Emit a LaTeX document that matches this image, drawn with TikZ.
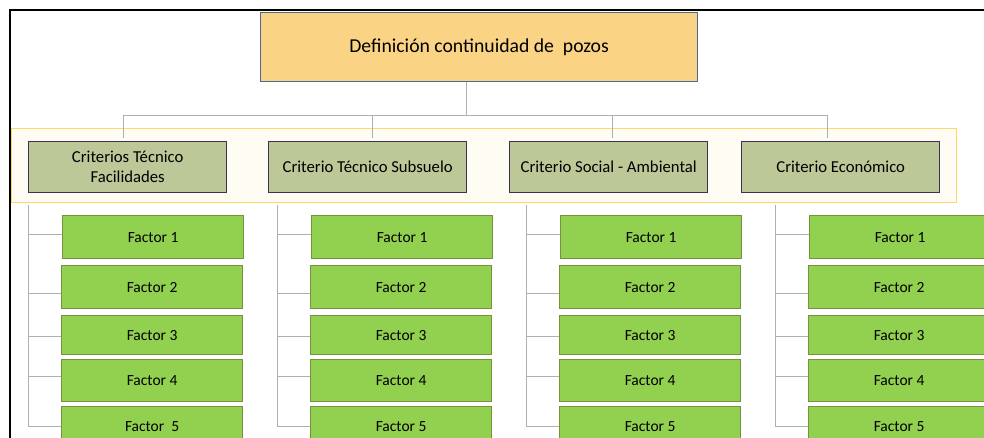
\documentclass[tikz,border=0pt]{standalone}
\usepackage{fontspec}
\setmainfont{Carlito}
\definecolor{topfill}{HTML}{FAD384}
\definecolor{topdraw}{HTML}{4A6A94}
\definecolor{bandfill}{HTML}{FFFCF4}
\definecolor{banddraw}{HTML}{FFD965}
\definecolor{critfill}{HTML}{BCC898}
\definecolor{critdraw}{HTML}{3F3151}
\definecolor{facfill}{HTML}{92D050}
\definecolor{facdraw}{HTML}{76923C}
\definecolor{linegray}{HTML}{B0B0B0}
\tikzset{
  topbox/.style={draw=topdraw, fill=topfill, line width=1.3pt, rectangle, inner sep=0pt,
    minimum width=437pt, minimum height=69pt, anchor=north west, font=\fontsize{19.7}{23}\selectfont},
  bandbox/.style={draw=banddraw, fill=bandfill, line width=1.4pt, rectangle, inner sep=0pt,
    minimum width=945pt, minimum height=74pt, anchor=north west},
  critbox/.style={draw=critdraw, fill=critfill, line width=1.4pt, rectangle, inner sep=0pt,
    minimum width=198pt, minimum height=51pt, anchor=north west, align=center,
    font=\fontsize{16.7}{20}\selectfont},
  facbox/.style={draw=facdraw, fill=facfill, line width=1.2pt, rectangle, inner sep=0pt,
    minimum width=181pt, anchor=north west, font=\fontsize{15.5}{18}\selectfont},
  conn/.style={draw=linegray, line width=0.9pt},
  frame/.style={draw=black, line width=2pt}
}
\begin{document}
\begin{tikzpicture}[x=1pt,y=-1pt]
\useasboundingbox (0,0) rectangle (984,438);
\begin{scope}
\clip (0,0) rectangle (984,438);
\fill[white] (0,0) rectangle (984,438);
% frame
\coordinate (fr1) at (9.5,438);
\coordinate (fr2) at (9.5,10.5);
\coordinate (fr3) at (990,10.5);
\draw[frame] (fr1) -- (fr2) -- (fr3);
% top
\node[topbox] (top) at (260,12) {Definición continuidad de\ \ pozos};
% hub lines
\coordinate (hub) at (466,115);
\coordinate (h1) at (123,115);
\coordinate (h4) at (827,115);
\coordinate (h2) at (372,115);
\coordinate (h3) at (612,115);
\coordinate (d1) at (123,138);
\coordinate (d2) at (372,138);
\coordinate (d3) at (612,138);
\coordinate (d4) at (827,138);
% band
\node[bandbox] (band) at (11,128) {};
\draw[conn] (hub |- top.south) -- (hub);
\draw[conn] (d1) -- (h1) -- (h4) -- (d4);
\draw[conn] (h2) -- (d2);
\draw[conn] (h3) -- (d3);
% criteria
\node[critbox] (c1) at (28,141) {Criterios Técnico\\Facilidades};
\node[critbox] (c2) at (268,141) {Criterio Técnico Subsuelo};
\node[critbox] (c3) at (509,141) {Criterio Social - Ambiental};
\node[critbox] (c4) at (741,141) {Criterio Económico};
% factors
\foreach \i/\cx/\ftext in {1/28/{Factor\ \ 5},2/277/{Factor 5},3/526/{Factor 5},4/775/{Factor 5}} {
  \coordinate (k\i t) at (\cx,205);
  \coordinate (k\i b) at (\cx,426);
  \draw[conn] (k\i t) -- (k\i b);
  \node[facbox, minimum height=43pt] (f\i1) at (\cx+34,215) {Factor 1};
  \node[facbox, minimum height=43pt] (f\i2) at (\cx+33,265) {Factor 2};
  \node[facbox, minimum height=39pt] (f\i3) at (\cx+33,315) {Factor 3};
  \node[facbox, minimum height=42pt] (f\i4) at (\cx+33,359) {Factor 4};
  \node[facbox, minimum height=40pt] (f\i5) at (\cx+33,406) {\ftext};
  \coordinate (b\i1) at (\cx,234);
  \coordinate (b\i2) at (\cx,293);
  \coordinate (b\i3) at (\cx,336);
  \coordinate (b\i4) at (\cx,376);
  \coordinate (b\i5) at (\cx,426);
  \foreach \j in {1,...,5} {
    \draw[conn] (b\i\j) -- (b\i\j -| f\i\j.west);
  }
}
\end{scope}
\end{tikzpicture}
\end{document}
